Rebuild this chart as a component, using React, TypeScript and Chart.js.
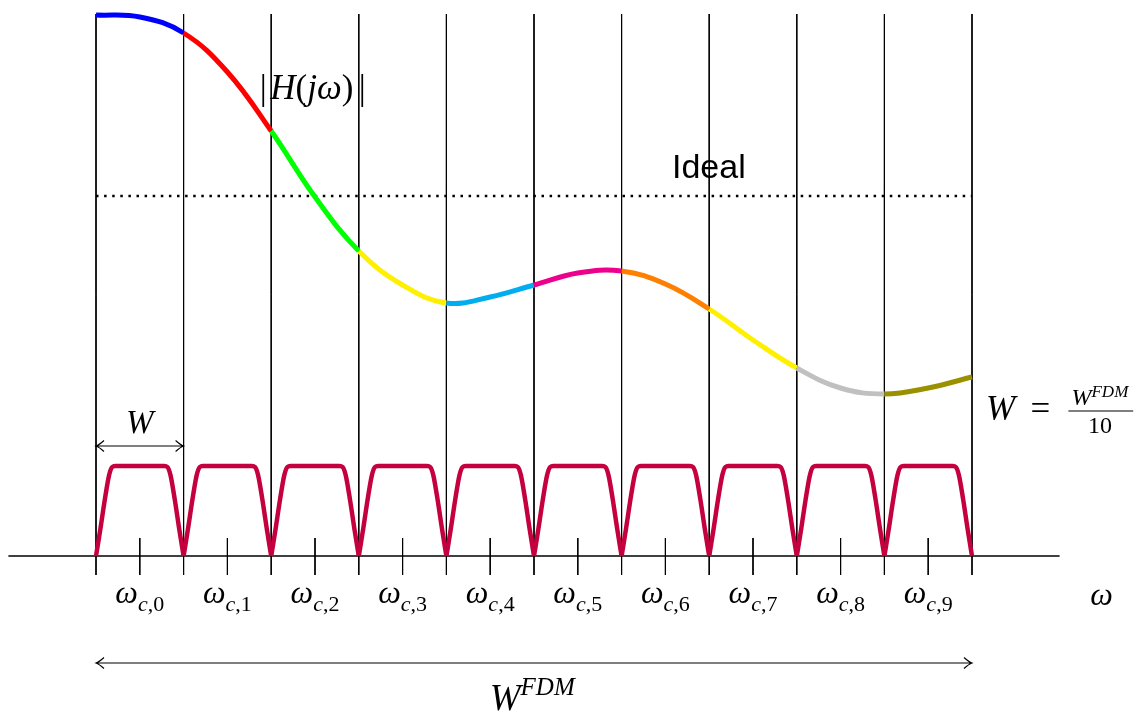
import React, { useEffect, useRef } from 'react';
import { Chart, registerables } from 'chart.js';

Chart.register(...registerables);

// ---- data ----
const boundaries = [0, 1, 2, 3, 4, 5, 6, 7, 8, 9, 10];
const channelMids = [0.5, 1.5, 2.5, 3.5, 4.5, 5.5, 6.5, 7.5, 8.5, 9.5];
const channelLabels = ['0', '1', '2', '3', '4', '5', '6', '7', '8', '9'];

// |H(jw)| magnitude samples (frequency in channel units, magnitude in drawing units)
const hX = [0, 0.5, 1, 1.5, 2, 2.5, 3, 3.5, 4, 4.5, 5, 5.5, 6, 6.5, 7, 7.5, 8, 8.5, 9, 9.5, 10];
const hY = [541, 539, 523, 484, 425, 359, 305, 271, 253, 259, 271, 283, 285, 272, 247, 216, 188, 168, 162, 168, 179];
const hColors = ['#0000ff', '#ff0000', '#00ff00', '#fff000', '#00aeef', '#ec008c', '#ff8000', '#fff000', '#c0c0c0', '#9a9000'];

// one channel filter shape (offset within channel, height)
const bumpX = [0, 0.05, 0.1, 0.15, 0.185, 0.22, 0.78, 0.815, 0.85, 0.9, 0.95, 1];
const bumpY = [0, 27, 56, 81, 89, 90, 90, 89, 81, 56, 27, 0];

const idealLevel = 360;

const SERIF = "'Liberation Serif', 'Times New Roman', serif";
const SANS = "'Liberation Sans', Arial, sans-serif";

type Run = { t: string; size: number; italic?: boolean; dy?: number };

function fontOf(r: Run) {
  return `${r.italic ? 'italic ' : ''}${r.size}px ${SERIF}`;
}

function drawRuns(ctx: CanvasRenderingContext2D, runs: Run[], x: number, y: number, align: 'left' | 'center') {
  ctx.textAlign = 'left';
  let w = 0;
  for (const r of runs) {
    ctx.font = fontOf(r);
    w += ctx.measureText(r.t).width;
  }
  let cx = align === 'center' ? x - w / 2 : x;
  for (const r of runs) {
    ctx.font = fontOf(r);
    ctx.fillText(r.t, cx, y + (r.dy || 0));
    cx += ctx.measureText(r.t).width;
  }
}

function drawArrow(ctx: CanvasRenderingContext2D, x0: number, x1: number, y: number) {
  ctx.beginPath();
  ctx.moveTo(x0, y);
  ctx.lineTo(x1, y);
  ctx.moveTo(x0 + 8, y - 5.5);
  ctx.quadraticCurveTo(x0 + 3, y - 1, x0, y);
  ctx.quadraticCurveTo(x0 + 3, y + 1, x0 + 8, y + 5.5);
  ctx.moveTo(x1 - 8, y - 5.5);
  ctx.quadraticCurveTo(x1 - 3, y - 1, x1, y);
  ctx.quadraticCurveTo(x1 - 3, y + 1, x1 - 8, y + 5.5);
  ctx.stroke();
}

const annotations = {
  id: 'annotations',
  afterDatasetsDraw(chart: any) {
    const ctx: CanvasRenderingContext2D = chart.ctx;
    const xs = chart.scales.x;
    const ys = chart.scales.y;
    const X = (v: number) => xs.getPixelForValue(v);
    const Y = (v: number) => ys.getPixelForValue(v);
    ctx.save();
    ctx.fillStyle = '#000';
    ctx.strokeStyle = '#000';
    ctx.lineWidth = 1.1;
    ctx.textBaseline = 'alphabetic';
    ctx.textAlign = 'left';

    // arrows
    drawArrow(ctx, X(0), X(1), Y(110));
    drawArrow(ctx, X(0), X(10), Y(-107));

    // channel labels
    channelMids.forEach((m, i) => {
      drawRuns(ctx, [
        { t: 'ω', size: 32, italic: true },
        { t: 'c', size: 22, italic: true, dy: 8 },
        { t: ',' + channelLabels[i], size: 22, dy: 8 },
      ], X(m), Y(-47), 'center');
    });

    // axis label
    drawRuns(ctx, [{ t: 'ω', size: 32, italic: true }], X(11.48), Y(-49), 'center');

    // |H(jw)|
    drawRuns(ctx, [{ t: '|', size: 35 }], X(1.87), Y(457), 'left');
    drawRuns(ctx, [
      { t: 'H', size: 35, italic: true },
      { t: '(', size: 35 },
      { t: 'jω', size: 35, italic: true },
      { t: ')', size: 35 },
    ], X(1.99), Y(457), 'left');
    drawRuns(ctx, [{ t: '|', size: 35 }], X(3.0), Y(457), 'left');

    // Ideal
    ctx.font = `34px ${SANS}`;
    ctx.textAlign = 'left';
    ctx.fillText('Ideal', X(6.575), Y(378));

    // W over arrow
    drawRuns(ctx, [{ t: 'W', size: 33, italic: true }], X(0.5), Y(123), 'center');

    // W = W^FDM / 10
    drawRuns(ctx, [{ t: 'W', size: 35, italic: true }], X(10.16), Y(136), 'left');
    drawRuns(ctx, [{ t: '=', size: 35 }], X(10.78), Y(136), 'center');
    drawRuns(ctx, [
      { t: 'W', size: 24, italic: true },
      { t: 'FDM', size: 17, italic: true, dy: -8 },
    ], X(11.46), Y(151), 'center');
    ctx.beginPath();
    ctx.moveTo(X(11.1), Y(145));
    ctx.lineTo(X(11.84), Y(145));
    ctx.stroke();
    drawRuns(ctx, [{ t: '10', size: 24 }], X(11.46), Y(123), 'center');

    // bottom W^FDM
    drawRuns(ctx, [
      { t: 'W', size: 37, italic: true },
      { t: 'FDM', size: 25, italic: true, dy: -15 },
    ], X(4.98), Y(-154), 'center');

    ctx.restore();
  },
};

export default function App() {
  const ref = useRef<HTMLCanvasElement | null>(null);

  useEffect(() => {
    if (!ref.current) return;

    const verticals: any[] = [];
    boundaries.forEach((b) => {
      verticals.push({ x: b, y: 542 }, { x: b, y: -19 }, { x: b, y: null });
    });
    const ticks: any[] = [];
    channelMids.forEach((m) => {
      ticks.push({ x: m, y: 18 }, { x: m, y: -19 }, { x: m, y: null });
    });

    const bumpSets = channelMids.map((_, i) => ({
      data: bumpX.map((bx, k) => ({ x: boundaries[i] + bx, y: bumpY[k] })),
      borderColor: '#c4003f',
      borderWidth: 4.5,
      pointRadius: 0,
      cubicInterpolationMode: 'monotone' as const,
      order: 5,
    }));

    const chart = new Chart(ref.current, {
      type: 'line',
      data: {
        datasets: [
          {
            data: hX.map((x, i) => ({ x, y: hY[i] })),
            borderWidth: 5,
            pointRadius: 0,
            tension: 0.4,
            borderColor: hColors[0],
            segment: {
              borderColor: (c: any) => hColors[Math.min(9, Math.floor(c.p0.parsed.x + 1e-6))],
            },
            order: 1,
          } as any,
          ...bumpSets,
          {
            data: [{ x: 0, y: idealLevel }, { x: 10, y: idealLevel }],
            borderColor: '#000',
            borderWidth: 2.5,
            borderDash: [2.5, 5.6],
            pointRadius: 0,
            order: 8,
          },
          {
            data: verticals,
            borderColor: '#000',
            borderWidth: 1,
            pointRadius: 0,
            spanGaps: false,
            order: 10,
          },
          {
            data: ticks,
            borderColor: '#000',
            borderWidth: 1,
            pointRadius: 0,
            spanGaps: false,
            order: 10,
          },
          {
            data: [{ x: -1, y: 0 }, { x: 11, y: 0 }],
            borderColor: '#000',
            borderWidth: 1.3,
            pointRadius: 0,
            order: 10,
          },
        ],
      },
      options: {
        responsive: false,
        animation: false,
        devicePixelRatio: 1,
        layout: { padding: 0 },
        scales: {
          x: { type: 'linear', min: -96 / 87.6, max: (1139 - 96) / 87.6, display: false },
          y: { type: 'linear', min: -157, max: 556, display: false },
        },
        plugins: {
          legend: { display: false },
          tooltip: { enabled: false },
          title: { display: false },
        },
        elements: { line: { borderCapStyle: 'butt' } },
      },
      plugins: [annotations],
    });

    return () => chart.destroy();
  }, []);

  return (
    <div style={{ position: 'absolute', left: 0, top: 0, width: 1139, height: 713, background: '#fff' }}>
      <canvas ref={ref} width={1139} height={713} style={{ display: 'block', width: 1139, height: 713 }} />
    </div>
  );
}
